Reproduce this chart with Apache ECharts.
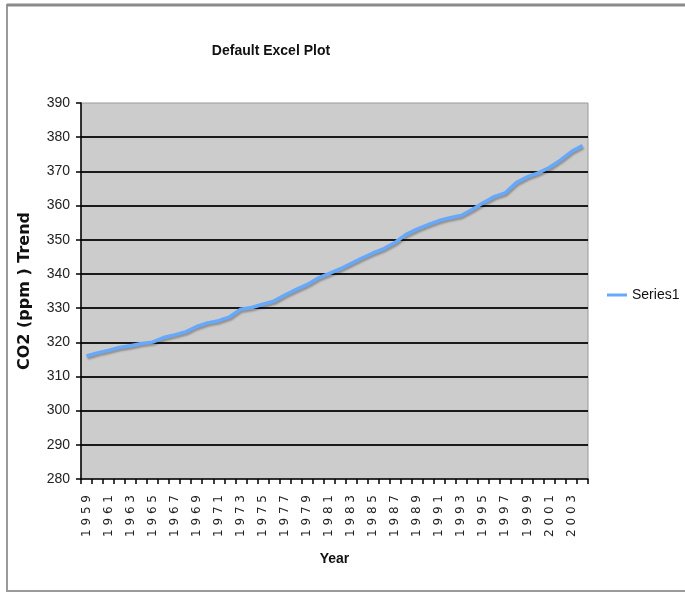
<!DOCTYPE html>
<html>
<head>
<meta charset="utf-8">
<title>Default Excel Plot</title>
<script src="https://cdn.jsdelivr.net/npm/echarts@6/dist/echarts.min.js"></script>
<style>
  html, body { margin: 0; padding: 0; background: #fff; }
  #chart { width: 685px; height: 593px; }
</style>
</head>
<body>
<div id="chart"></div>
<script>
// years on the category axis
var years = [];
for (var y = 1959; y <= 2004; y++) years.push(String(y));

// CO2 (ppm) trend, one per year
var co2 = [
  315.97, 316.91, 317.64, 318.45, 318.99, 319.62, 320.04, 321.38, 322.16, 323.04,
  324.62, 325.68, 326.32, 327.45, 329.68, 330.18, 331.11, 332.04, 333.83, 335.40,
  336.84, 338.75, 340.11, 341.45, 343.05, 344.65, 346.12, 347.42, 349.19, 351.57,
  353.12, 354.39, 355.61, 356.45, 357.10, 358.83, 360.82, 362.61, 363.73, 366.70,
  368.38, 369.55, 371.14, 373.28, 375.80, 377.52
];

var yMin = 280, yMax = 390, yStep = 10;

var chart = echarts.init(document.getElementById('chart'));

var option = {
  animation: false,
  backgroundColor: '#fff',
  title: {
    text: 'Default Excel Plot',
    left: 266,
    top: 39,
    textAlign: 'center',
    textStyle: {
      fontFamily: 'Liberation Sans, sans-serif',
      fontWeight: 'bold',
      fontSize: 14,
      color: '#111'
    }
  },
  legend: {
    left: 602,
    top: 283,
    icon: 'rect',
    itemWidth: 20,
    itemHeight: 3,
    itemGap: 6,
    textStyle: {
      fontFamily: 'Liberation Sans, sans-serif',
      fontSize: 14,
      color: '#111'
    },
    data: ['Series1']
  },
  graphic: [{
    type: 'rect',
    shape: { x: 7, y: 5, width: 720, height: 586 },
    style: { fill: 'none', stroke: '#9a9a9a', lineWidth: 2 },
    silent: true
  }, {
    type: 'line',
    shape: { x1: 7, y1: 5, x2: 685, y2: 5 },
    style: { stroke: '#8a8a8a', lineWidth: 3 },
    silent: true
  }],
  grid: {
    left: 81,
    top: 103,
    width: 507,
    height: 376,
    show: true,
    backgroundColor: '#cccccc',
    borderColor: '#9a9a9a',
    borderWidth: 1
  },
  xAxis: {
    type: 'category',
    data: years,
    boundaryGap: true,
    name: 'Year',
    nameLocation: 'middle',
    nameGap: 73,
    nameTextStyle: {
      fontFamily: 'Liberation Sans, sans-serif',
      fontWeight: 'bold',
      fontSize: 14,
      color: '#111'
    },
    axisLine: { lineStyle: { color: '#000', width: 1.5 } },
    axisTick: { show: true, interval: 0, length: 5, lineStyle: { color: '#000', width: 1.5 } },
    axisLabel: {
      interval: 1,
      rotate: 90,
      margin: 16,
      fontFamily: 'DejaVu Sans, sans-serif',
      fontSize: 12,
      color: '#222',
      formatter: function (v) { return v.split('').join(' '); }
    },
    splitLine: { show: false }
  },
  yAxis: {
    type: 'value',
    min: yMin,
    max: yMax,
    interval: yStep,
    name: 'CO2 (ppm ) Trend',
    nameLocation: 'middle',
    nameGap: 48,
    nameTextStyle: {
      fontFamily: 'DejaVu Sans, sans-serif',
      fontWeight: 'bold',
      fontSize: 16,
      color: '#111'
    },
    axisLine: { show: true, lineStyle: { color: '#000', width: 1.5 } },
    axisTick: { show: true, length: 5, lineStyle: { color: '#000', width: 1.5 } },
    axisLabel: {
      margin: 11,
      fontFamily: 'Liberation Sans, sans-serif',
      fontSize: 14,
      color: '#222'
    },
    splitLine: {
      show: true,
      showMinLine: false,
      showMaxLine: false,
      lineStyle: { color: '#1a1a1a', width: 2 }
    }
  },
  series: [{
    name: 'Series1',
    type: 'line',
    data: co2,
    showSymbol: false,
    symbol: 'none',
    color: '#66a8fa',
    lineStyle: {
      color: '#66a8fa',
      width: 3.5,
      shadowColor: 'rgba(0,0,0,0.3)',
      shadowBlur: 2,
      shadowOffsetX: 1,
      shadowOffsetY: 2
    }
  }]
};

chart.setOption(option);
</script>
</body>
</html>
